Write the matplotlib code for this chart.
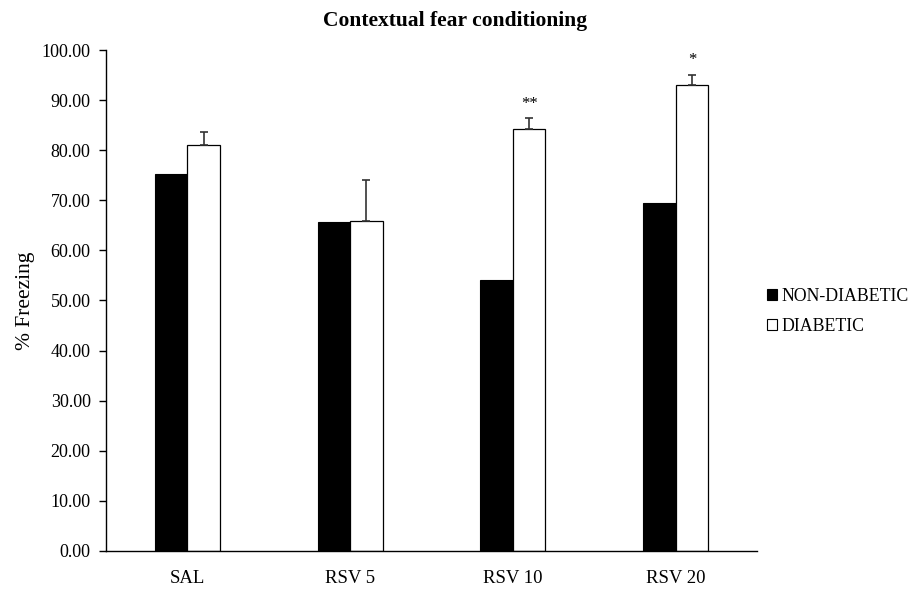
import numpy as np
from matplotlib import pyplot as plt
from matplotlib.patches import Rectangle

plt.rcParams['font.family'] = ['Liberation Serif', 'DejaVu Serif']

groups = ['SAL', 'RSV 5', 'RSV 10', 'RSV 20']
non_diabetic = [75.2, 65.7, 54.0, 69.5]
diabetic = [81.0, 65.9, 84.2, 93.0]
diabetic_err = [2.7, 8.2, 2.2, 2.1]
signif = ['', '', '**', '*']

x = np.arange(len(groups))
w = 0.2

fig = plt.figure(figsize=(9.16, 5.92), dpi=100)
ax = fig.add_axes([0.1157, 0.0693, 0.7107, 0.8462])

ax.bar(x - w / 2, non_diabetic, w, color='black', edgecolor='black', linewidth=0.8)
ax.bar(x + w / 2, diabetic, w, color='white', edgecolor='black', linewidth=0.9,
       yerr=[np.zeros(len(diabetic)), diabetic_err],
       error_kw=dict(ecolor='#333333', elinewidth=1.2, capsize=2.6, capthick=1.2))

for xi, v, e, s in zip(x, diabetic, diabetic_err, signif):
    if s:
        ax.text(xi + w / 2, v + e + 1.3, s, ha='center', va='bottom', fontsize=12)

ax.set_xlim(-0.5, len(groups) - 0.5)
ax.set_ylim(0, 100)
ax.set_yticks(np.arange(0, 101, 10))
ax.set_yticklabels(['%.2f' % t for t in np.arange(0, 101, 10)], fontsize=13)
ax.set_xticks(x)
ax.set_xticklabels(groups, fontsize=13.5)
ax.tick_params(axis='x', length=0, pad=14)
ax.tick_params(axis='y', length=5, width=1, direction='out', pad=6)

for side in ['top', 'right']:
    ax.spines[side].set_visible(False)
ax.spines['left'].set_linewidth(1.0)
ax.spines['bottom'].set_linewidth(1.0)

ax.set_ylabel('% Freezing', fontsize=15.5, labelpad=5)
fig.text(0.497, 0.964, 'Contextual fear conditioning', ha='center', va='center',
         fontsize=15.5, fontweight='bold')

handles = [Rectangle((0, 0), 1, 1, facecolor='black', edgecolor='black', linewidth=0.8),
           Rectangle((0, 0), 1, 1, facecolor='white', edgecolor='black', linewidth=0.8)]
fig.legend(handles, ['NON-DIABETIC', 'DIABETIC'], loc='center left',
           bbox_to_anchor=(0.820, 0.474), frameon=False, fontsize=12.8,
           handlelength=0.55, handleheight=0.55, handletextpad=0.25, labelspacing=0.75)

fig.savefig('out.png', dpi=100)
